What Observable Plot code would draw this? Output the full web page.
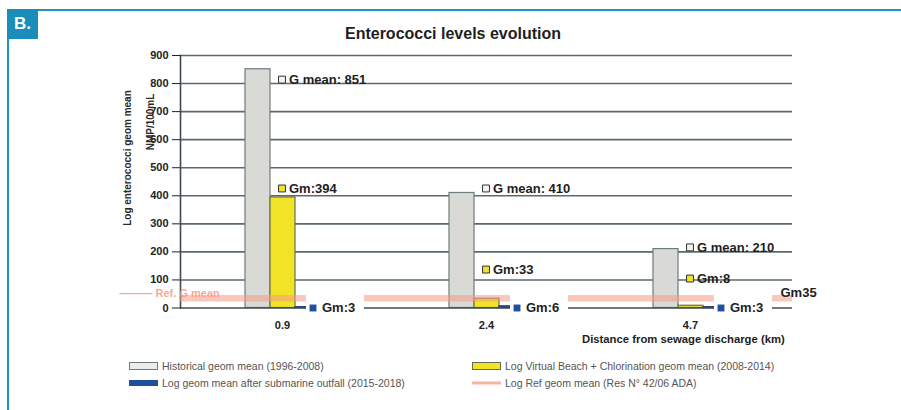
<!DOCTYPE html>
<html><head><meta charset="utf-8">
<script src="https://cdn.jsdelivr.net/npm/d3@7"></script>
<script src="https://cdn.jsdelivr.net/npm/@observablehq/plot@0.6"></script>
<style>
body{margin:0;background:#fff;font-family:"Liberation Sans",Arial,sans-serif;}
#wrap{position:relative;width:901px;height:410px;overflow:hidden;background:#fff;}
#chart{position:absolute;left:0;top:0;}
.abs{position:absolute;white-space:nowrap;}
.topline{left:38px;top:9px;width:863px;height:2px;background:#1f93c4;}
.leftline{left:7px;top:38px;width:2px;height:372px;background:#1f93c4;}
.badge{left:7px;top:9px;width:31px;height:30px;background:#1a8dbb;color:#fff;font-weight:bold;font-size:17px;line-height:30px;text-align:center;}
.title{left:0;width:906px;top:25px;text-align:center;font-weight:bold;font-size:16px;color:#1e1e1e;}
.ytitle{font-weight:bold;font-size:10px;color:#2a2a2a;transform:translate(-50%,-50%) rotate(-90deg);}
.xtitle{left:582px;top:333px;font-weight:bold;font-size:11.3px;color:#1e1e1e;}
.leg{font-size:10.5px;color:#555;transform:translateY(-50%);}
.sw{transform:translateY(-50%);box-sizing:border-box;}
</style></head><body>
<div id="wrap">
  <div id="chart"></div>
  <div class="abs topline"></div>
  <div class="abs leftline"></div>
  <div class="abs badge">B.</div>
  <div class="abs title" id="title"></div>
  <div class="abs ytitle" id="yt1" style="left:127px;top:158px;"></div>
  <div class="abs ytitle" id="yt2" style="left:150px;top:122px;"></div>
  <div class="abs xtitle" id="xt"></div>
  <div id="legend"></div>
</div>
<script>
// ---- data ----
const titleText = "Enterococci levels evolution";
const yTitle = ["Log enterococci geom mean", "NMP/100mL"];
const xTitle = "Distance from sewage discharge (km)";
const distances = ["0.9", "2.4", "4.7"];
const seriesKeys = ["historical", "virtualBeach", "outfall"];
const seriesNames = [
  "Historical geom mean (1996-2008)",
  "Log Virtual Beach + Chlorination geom mean (2008-2014)",
  "Log geom mean after submarine outfall (2015-2018)",
  "Log Ref geom mean (Res N\u00b0 42/06 ADA)"
];
const historical = [851, 410, 210];
const virtualBeach = [394, 33, 8];
const outfall = [3, 6, 3];
const refGeomMean = 35;
const yTicks = [0, 100, 200, 300, 400, 500, 600, 700, 800, 900];
const labelPrefix = ["G mean: ", "Gm:", "Gm:"];
// annotation anchor heights (data units) as placed in the original chart
const labelAnchor = [[814, 426, 216], [426, 137, 105], [0, 0, 0]];
const refLabel = "Ref. G mean";

// ---- styles ----
const fills = {historical: "#d9d9d6", virtualBeach: "#f1e326", outfall: "#1f4f9f"};
const strokes = {historical: "#6e7c7f", virtualBeach: "#66704e", outfall: "#22407f"};
const pink = "#f59a83";
// white label background box (custom symbol)
const labelBox = {draw(ctx) { ctx.rect(-7, -13, 58, 22); }};

const values = [historical, virtualBeach, outfall];
const rows = distances.flatMap((d, i) => seriesKeys.map((s, k) => ({
  distance: d, series: s, value: values[k][i],
  label: labelPrefix[k] + values[k][i], labelY: labelAnchor[k][i]
})));
const upper = rows.filter(r => r.series !== "outfall");
const lower = rows.filter(r => r.series === "outfall");

document.getElementById("title").textContent = titleText;
document.getElementById("yt1").textContent = yTitle[0];
document.getElementById("yt2").textContent = yTitle[1];
document.getElementById("xt").textContent = xTitle;

const chart = Plot.plot({
  width: 901, height: 410,
  marginLeft: 179, marginRight: 109, marginTop: 55, marginBottom: 102.5,
  style: {background: "transparent", fontFamily: "Liberation Sans, Arial, sans-serif", color: "#222", overflow: "visible"},
  fx: {domain: distances, padding: 0},
  x: {domain: seriesKeys, paddingInner: 0, paddingOuter: 2.58, axis: null},
  y: {domain: [0, 900]},
  color: {type: "identity"},
  marks: [
    Plot.ruleY(yTicks.filter(t => t > 0), {stroke: "#5a6a6e", strokeWidth: 1.6}),
    Plot.barY(rows, {fx: "distance", x: "series", y: "value",
      fill: d => fills[d.series], stroke: d => strokes[d.series], strokeWidth: 1.2}),
    Plot.ruleY([0], {stroke: "#3d4c52", strokeWidth: 1.6}),
    Plot.frame({anchor: "left", facetAnchor: "left", stroke: "#3d4c52", strokeWidth: 1.6}),
    Plot.ruleY([refGeomMean], {stroke: pink, strokeOpacity: 0.55, strokeWidth: 6.5}),
    // upper labels
    Plot.dot(upper, {fx: "distance", x: () => "virtualBeach", y: "labelY", symbol: "square", r: 3.9,
      fill: d => d.series === "historical" ? "#f2f2f2" : fills.virtualBeach, stroke: "#333", strokeWidth: 1, dx: -1}),
    Plot.text(upper, {fx: "distance", x: () => "virtualBeach", y: "labelY", text: "label",
      textAnchor: "start", dx: 6, fontSize: 13, fontWeight: "bold", fill: "#1e1e1e"}),
    // lower labels with white background box
    Plot.dot(lower, {fx: "distance", x: "series", y: "labelY", symbol: labelBox, fill: "white", stroke: "none", dx: 5}),
    Plot.dot(lower, {fx: "distance", x: "series", y: "labelY", symbol: "square", r: 3.9,
      fill: fills.outfall, dx: 5}),
    Plot.text(lower, {fx: "distance", x: "series", y: "labelY", text: "label",
      textAnchor: "start", dx: 14, fontSize: 13, fontWeight: "bold", fill: "#1e1e1e"}),
    // reference labels
    Plot.text([refGeomMean], {fx: () => distances[0], y: d => d, text: () => "\u2014\u2014\u2014 " + refLabel,
      frameAnchor: "left", textAnchor: "start", dx: -61, dy: -5, fill: pink, fillOpacity: 0.85,
      fontSize: 11, fontWeight: "bold"}),
    Plot.text([refGeomMean], {fx: () => distances[distances.length - 1], y: d => d, text: d => "Gm" + d,
      frameAnchor: "right", textAnchor: "start", dx: -12, dy: -5, fill: "#1e1e1e",
      fontSize: 13, fontWeight: "bold"}),
    Plot.axisY({ticks: yTicks, tickSize: 8, tickPadding: 4, fontSize: 11, fontWeight: "bold", label: null, facetAnchor: "left"}),
    Plot.axisFx({anchor: "bottom", tickSize: 0, tickPadding: 13, fontSize: 11, fontWeight: "bold", label: null})
  ]
});
document.getElementById("chart").appendChild(chart);

// ---- legend ----
const legend = document.getElementById("legend");
const legendItems = [
  {name: seriesNames[0], left: 129, top: 366, sw: {h: 8, bg: "#ececea", border: "1.5px solid #6e7c7f"}},
  {name: seriesNames[2], left: 129, top: 383, sw: {h: 6, bg: "#1f4f9f", border: "none"}},
  {name: seriesNames[1], left: 472, top: 366, sw: {h: 8, bg: "#f1e326", border: "1.5px solid #66704e"}},
  {name: seriesNames[3], left: 472, top: 383, sw: {h: 3, bg: "#f8b3a2", border: "none"}}
];
for (const it of legendItems) {
  const s = document.createElement("div");
  s.className = "abs sw";
  s.style.cssText = `left:${it.left}px;top:${it.top}px;width:29px;height:${it.sw.h}px;background:${it.sw.bg};border:${it.sw.border};`;
  legend.appendChild(s);
  const t = document.createElement("div");
  t.className = "abs leg";
  t.style.left = (it.left + 33) + "px";
  t.style.top = it.top + "px";
  t.textContent = it.name;
  legend.appendChild(t);
}
</script>
</body></html>
